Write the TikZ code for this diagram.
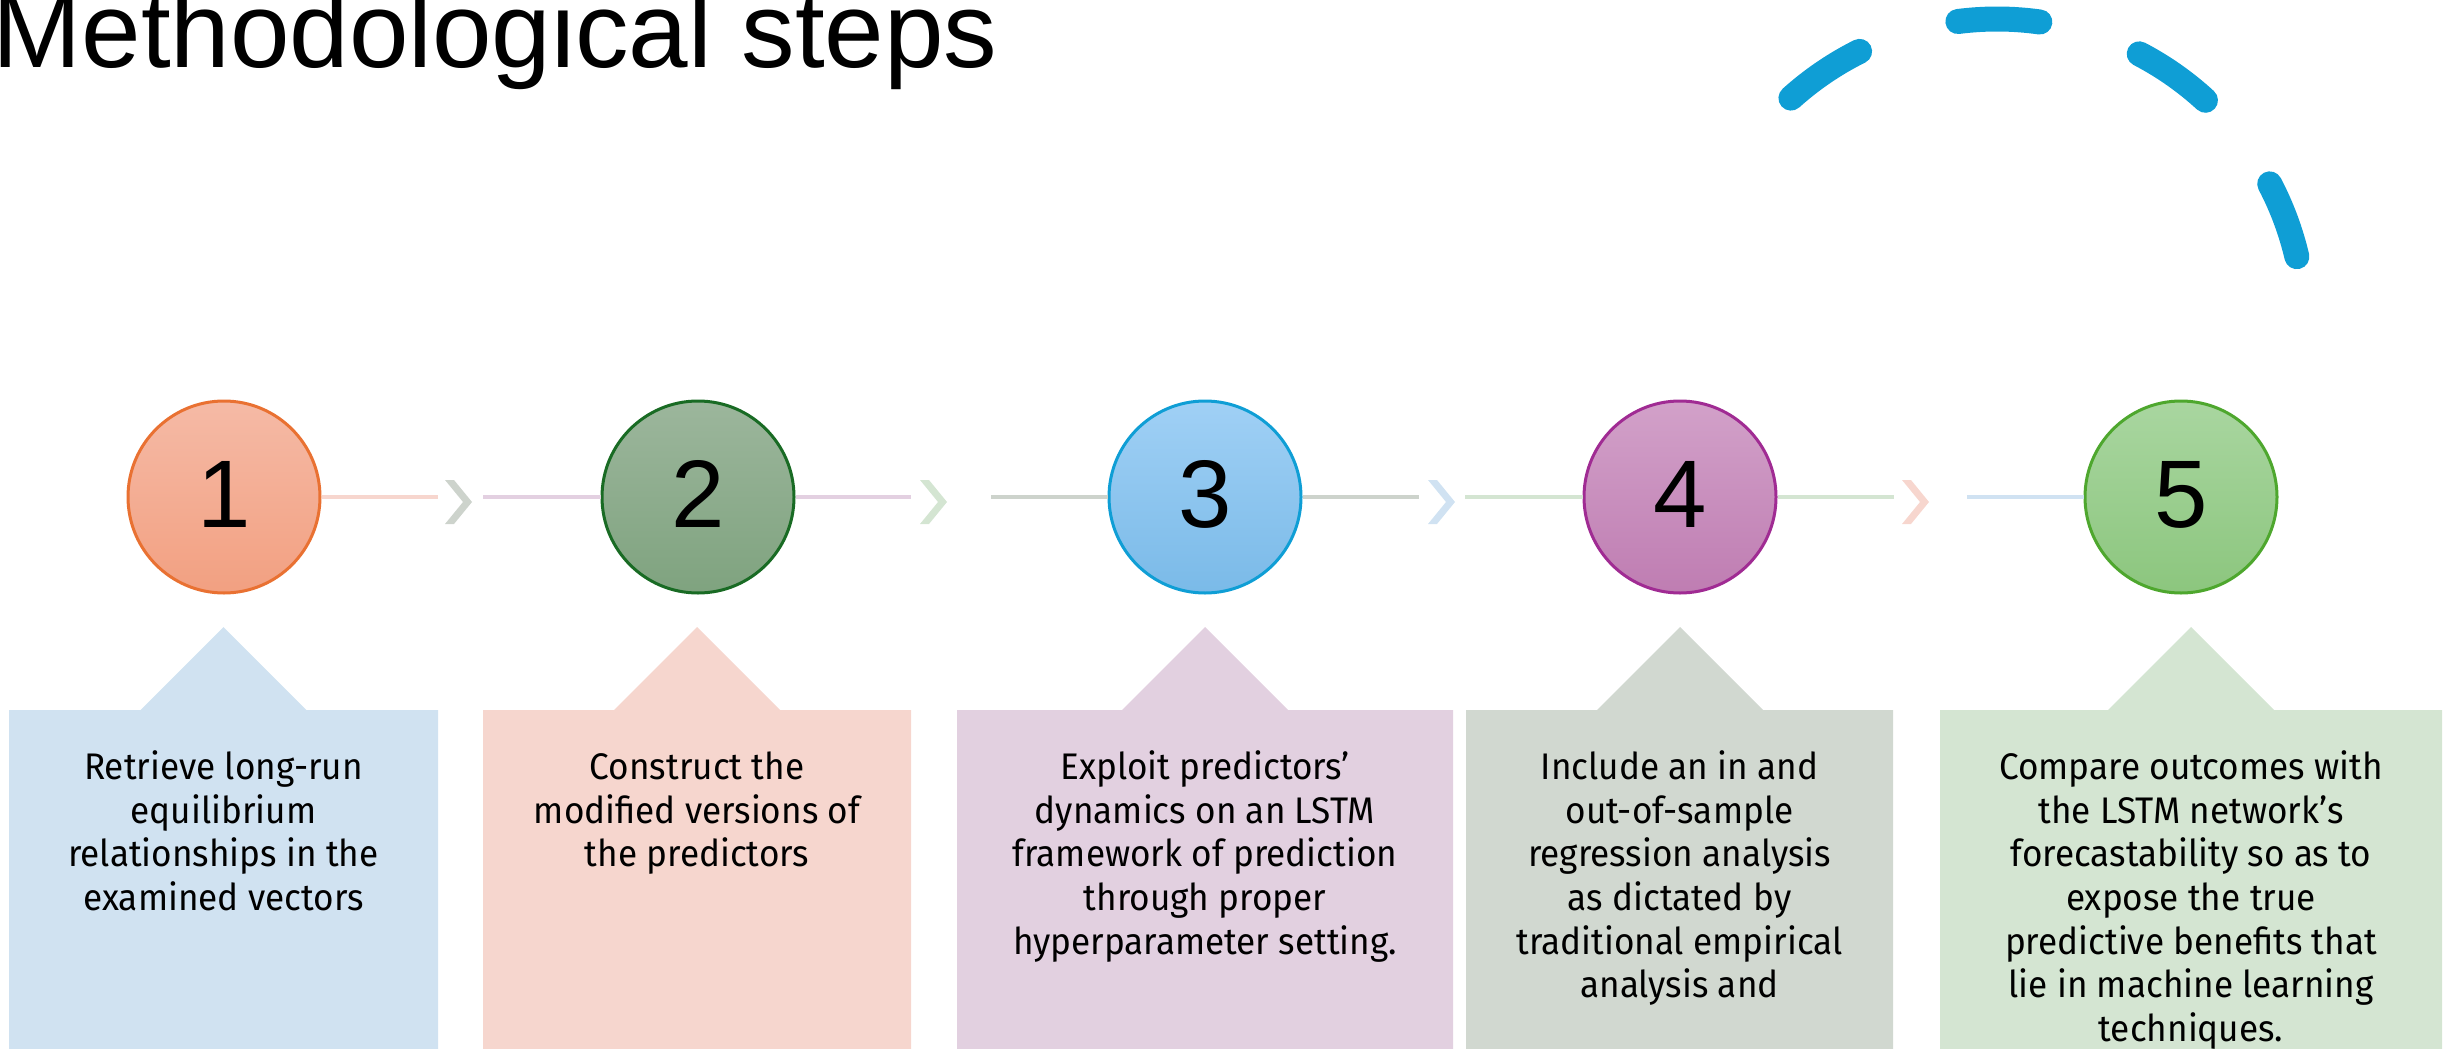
\documentclass[tikz,border=0pt]{standalone}
\usepackage{fontspec}
\setmainfont{Fira Sans}[FakeStretch=0.95]
\newfontfamily\numfont{Liberation Sans}
\newfontfamily\titlefont{Liberation Sans}
\definecolor{acOrange}{HTML}{E97132}
\definecolor{acDGreen}{HTML}{196B24}
\definecolor{acBlue}{HTML}{0F9ED5}
\definecolor{acPurple}{HTML}{A02B93}
\definecolor{acGreen}{HTML}{4EA72E}
\definecolor{oTop}{HTML}{F5BAA6}
\definecolor{oBot}{HTML}{F2A081}
\definecolor{gTop}{HTML}{9CB69C}
\definecolor{gBot}{HTML}{7FA37F}
\definecolor{bTop}{HTML}{A0D0F5}
\definecolor{bBot}{HTML}{7ABAE8}
\definecolor{pTop}{HTML}{D2A1C9}
\definecolor{pBot}{HTML}{BF7DB2}
\definecolor{lTop}{HTML}{A9D6A0}
\definecolor{lBot}{HTML}{8CC67E}
\definecolor{boxBlue}{HTML}{D0E2F1}
\definecolor{boxPink}{HTML}{F6D6CE}
\definecolor{boxPurple}{HTML}{E2D0E0}
\definecolor{boxGray}{HTML}{D1D8D0}
\definecolor{boxGreen}{HTML}{D4E5D2}
\definecolor{lnPink}{HTML}{F7D6CE}
\definecolor{lnPurple}{HTML}{E3D0E1}
\definecolor{lnGray}{HTML}{CDD3CC}
\definecolor{lnGreen}{HTML}{D4E5D2}
\definecolor{lnBlue}{HTML}{D0E2F2}
\newcommand\mychev[2]{\fill[#2] (#1,480) -- ++(9,0) -- ++(18,22) -- ++(-18,22) -- ++(-9,0) -- ++(18,-22) -- cycle;}
\begin{document}
\begin{tikzpicture}[x=0.5pt,y=-0.5pt,
  numc/.style={circle, minimum size=96pt, inner sep=0pt, line width=1.5pt,
    font=\numfont\fontsize{48pt}{48pt}\selectfont, text height=34.5pt, text depth=4.5pt},
  boxtext/.style={align=center, inner sep=0pt, anchor=north,
    font=\fontsize{18.5pt}{21.85pt}\selectfont},
  seg/.style={line width=1.6pt},
  dasharc/.style={draw=acBlue, line width=12.5pt, line cap=round}]
\useasboundingbox (0,0) rectangle (2453,1049);
% title
\node[anchor=base west, inner sep=0pt, font=\titlefont\fontsize{53.5pt}{53.5pt}\selectfont] (title) at (-8,67) {Methodological steps};
% dashed arc
\coordinate (arcc) at (1997,327);
\draw[dasharc] ([shift={(arcc)}]-132:308) arc[start angle=-132, end angle=-116.5, radius=308];
\draw[dasharc] ([shift={(arcc)}]-97.3:308) arc[start angle=-97.3, end angle=-82, radius=308];
\draw[dasharc] ([shift={(arcc)}]-62.5:308) arc[start angle=-62.5, end angle=-47.4, radius=308];
\draw[dasharc] ([shift={(arcc)}]-27.7:308) arc[start angle=-27.7, end angle=-13.2, radius=308];
% boxes
\fill[boxBlue] (9,1060) -- (9,710) -- (140.5,710) -- (223.5,627) -- (306.5,710) -- (438,710) -- (438,1060) -- cycle;
\fill[boxPink] (483,1060) -- (483,710) -- (614,710) -- (697,627) -- (780,710) -- (911,710) -- (911,1060) -- cycle;
\fill[boxPurple] (957,1060) -- (957,710) -- (1122,710) -- (1205,627) -- (1288,710) -- (1453,710) -- (1453,1060) -- cycle;
\fill[boxGray] (1466,1060) -- (1466,710) -- (1597,710) -- (1680,627) -- (1763,710) -- (1893,710) -- (1893,1060) -- cycle;
\fill[boxGreen] (1940,1060) -- (1940,710) -- (2108,710) -- (2191,627) -- (2274,710) -- (2442,710) -- (2442,1060) -- cycle;
% circles
\node[numc, draw=acOrange, top color=oTop, bottom color=oBot] (c1) at (224,497) {1};
\node[numc, draw=acDGreen, top color=gTop, bottom color=gBot] (c2) at (698,497) {2};
\node[numc, draw=acBlue, top color=bTop, bottom color=bBot] (c3) at (1205,497) {3};
\node[numc, draw=acPurple, top color=pTop, bottom color=pBot] (c4) at (1680,497) {4};
\node[numc, draw=acGreen, top color=lTop, bottom color=lBot] (c5) at (2181,497) {5};
% connector free ends
\coordinate (e1) at (438,497);
\coordinate (s2) at (483,497);
\coordinate (e2) at (911,497);
\coordinate (s3) at (991,497);
\coordinate (e3) at (1419,497);
\coordinate (s4) at (1465,497);
\coordinate (e4) at (1894,497);
\coordinate (s5) at (1967,497);
\draw[seg, lnPink] (c1.east) -- (e1);
\draw[seg, lnPurple] (s2) -- (c2.west);
\draw[seg, lnPurple] (c2.east) -- (e2);
\draw[seg, lnGray] (s3) -- (c3.west);
\draw[seg, lnGray] (c3.east) -- (e3);
\draw[seg, lnGreen] (s4) -- (c4.west);
\draw[seg, lnGreen] (c4.east) -- (e4);
\draw[seg, lnBlue] (s5) -- (c5.west);
% chevrons
\mychev{445}{lnGray}
\mychev{920}{lnGreen}
\mychev{1428}{lnBlue}
\mychev{1902}{lnPink}
% box texts
\node[boxtext] (t1) at (223.5,747) {\rule{0pt}{16pt}Retrieve long-run\\equilibrium\\relationships in the\\examined vectors};
\node[boxtext] (t2) at (697,747) {\rule{0pt}{16pt}Construct the\\modified versions of\\the predictors};
\node[boxtext] (t3) at (1205,747) {\rule{0pt}{16pt}Exploit predictors’\\dynamics on an LSTM\\framework of prediction\\through proper\\hyperparameter setting.};
\node[boxtext] (t4) at (1679.5,747) {\rule{0pt}{16pt}Include an in and\\out-of-sample\\regression analysis\\as dictated by\\traditional empirical\\analysis and};
\node[boxtext] (t5) at (2191,747) {\rule{0pt}{16pt}Compare outcomes with\\the LSTM network’s\\forecastability so as to\\expose the true\\predictive benefits that\\lie in machine learning\\techniques.};
\end{tikzpicture}
\end{document}
